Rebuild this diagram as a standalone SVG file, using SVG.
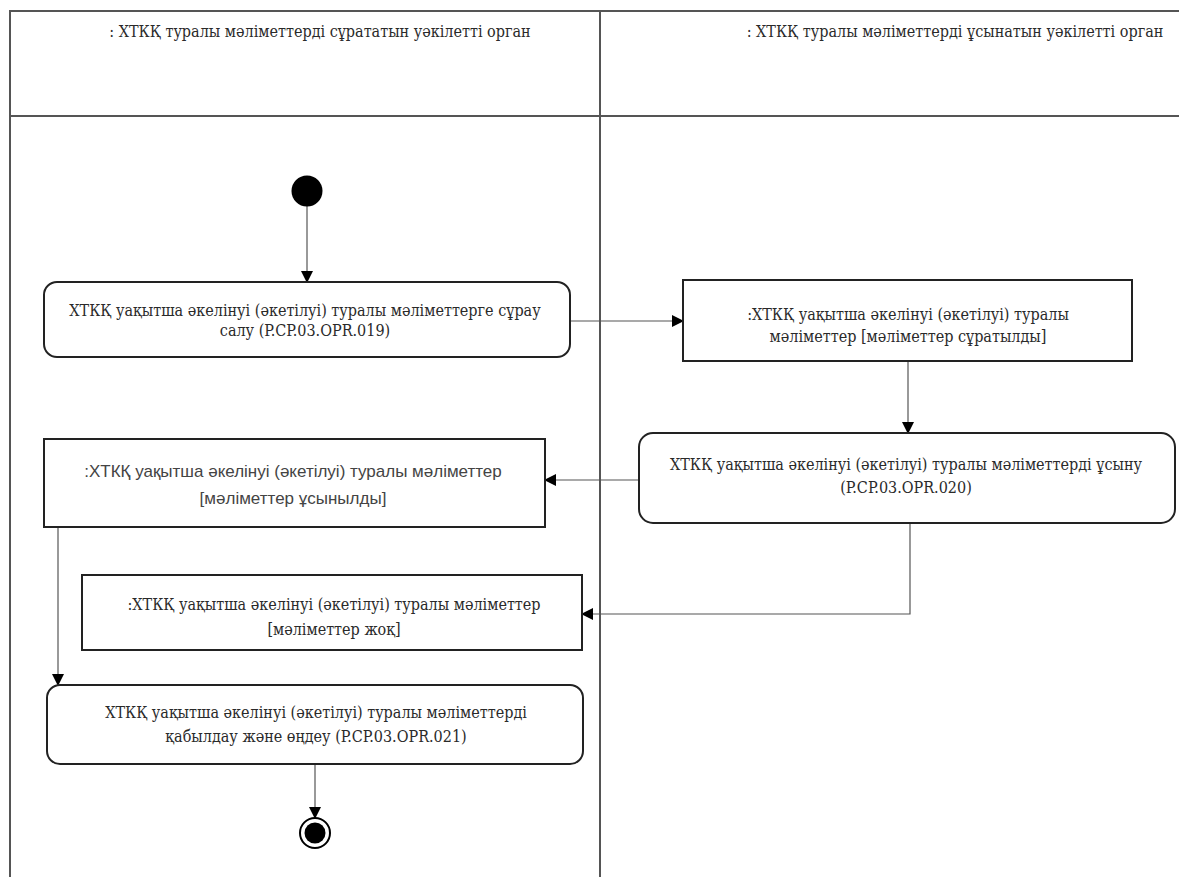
<svg xmlns="http://www.w3.org/2000/svg" width="1179" height="877" viewBox="0 0 1179 877">
<defs>
<marker id="arr" markerWidth="12" markerHeight="12" refX="11" refY="6" orient="auto" markerUnits="userSpaceOnUse">
<path d="M0,0 L12,6 L0,12 Z" fill="#000"/>
</marker>
<style>
.t{font-family:"DejaVu Serif Condensed","DejaVu Serif","Liberation Serif",serif;font-stretch:condensed;font-size:16px;fill:#2a2a2a;text-anchor:middle}
.s{font-family:"Liberation Sans",Arial,sans-serif;font-size:17px;fill:#444;text-anchor:middle}
.box{fill:#fff;stroke:#222;stroke-width:2}
.lane{fill:none;stroke:#555;stroke-width:2}
.c{fill:none;stroke:#555;stroke-width:1.2}
</style>
</defs>
<rect width="1179" height="877" fill="#fff"/>
<g id="lanes">
<path class="lane" d="M1179,11 H10 V877 M10,116 H1179 M600,11 V877"/>
<text class="t" x="320" y="37">: ХТКҚ туралы мәліметтерді сұрататын уәкілетті орган</text>
<text class="t" x="955" y="37">: ХТКҚ туралы мәліметтерді ұсынатын уәкілетті орган</text>
</g>
<g id="connectors">
<line class="c" x1="307" y1="206" x2="307" y2="282" marker-end="url(#arr)"/>
<line class="c" x1="570" y1="321" x2="683" y2="321" marker-end="url(#arr)"/>
<line class="c" x1="908" y1="361" x2="908" y2="433" marker-end="url(#arr)"/>
<line class="c" x1="639" y1="480" x2="545" y2="480" marker-end="url(#arr)"/>
<polyline class="c" points="910,523 910,614 582,614" marker-end="url(#arr)"/>
<line class="c" x1="58" y1="527" x2="58" y2="685" marker-end="url(#arr)"/>
<line class="c" x1="315" y1="764" x2="315" y2="818" marker-end="url(#arr)"/>
</g>
<g id="start"><circle cx="307" cy="191" r="15.5" fill="#000"/></g>
<g id="a1">
<rect class="box" x="44" y="282" width="526" height="75" rx="13"/>
<text class="t" x="305" y="316">ХТКҚ уақытша әкелінуі (әкетілуі) туралы  мәліметтерге сұрау</text>
<text class="t" x="305" y="336">салу (P.CP.03.OPR.019)</text>
</g>
<g id="o1">
<rect class="box" x="683" y="280" width="449" height="81"/>
<text class="t" x="908" y="320">:ХТКҚ уақытша әкелінуі (әкетілуі) туралы</text>
<text class="t" x="908" y="342">мәліметтер [мәліметтер сұратылды]</text>
</g>
<g id="a2">
<rect class="box" x="639" y="433" width="536" height="90" rx="14"/>
<text class="t" x="906" y="470">ХТКҚ уақытша әкелінуі (әкетілуі) туралы мәліметтерді ұсыну</text>
<text class="t" x="906" y="493">(P.CP.03.OPR.020)</text>
</g>
<g id="o2">
<rect class="box" x="44" y="439" width="501" height="88"/>
<text class="s" x="293" y="477">:ХТКҚ уақытша әкелінуі (әкетілуі) туралы мәліметтер</text>
<text class="s" x="293" y="504">[мәліметтер ұсынылды]</text>
</g>
<g id="o3">
<rect class="box" x="82" y="575" width="500" height="75"/>
<text class="t" x="334" y="610">:ХТКҚ уақытша әкелінуі (әкетілуі) туралы мәліметтер</text>
<text class="t" x="334" y="635">[мәліметтер жоқ]</text>
</g>
<g id="a3">
<rect class="box" x="47" y="685" width="536" height="79" rx="13"/>
<text class="t" x="316" y="718">ХТКҚ уақытша әкелінуі (әкетілуі) туралы мәліметтерді</text>
<text class="t" x="316" y="742">қабылдау және өңдеу (P.CP.03.OPR.021)</text>
</g>
<g id="end">
<circle cx="315" cy="833" r="15" fill="#fff" stroke="#000" stroke-width="2"/>
<circle cx="315" cy="833" r="10.5" fill="#000"/>
</g>
</svg>
